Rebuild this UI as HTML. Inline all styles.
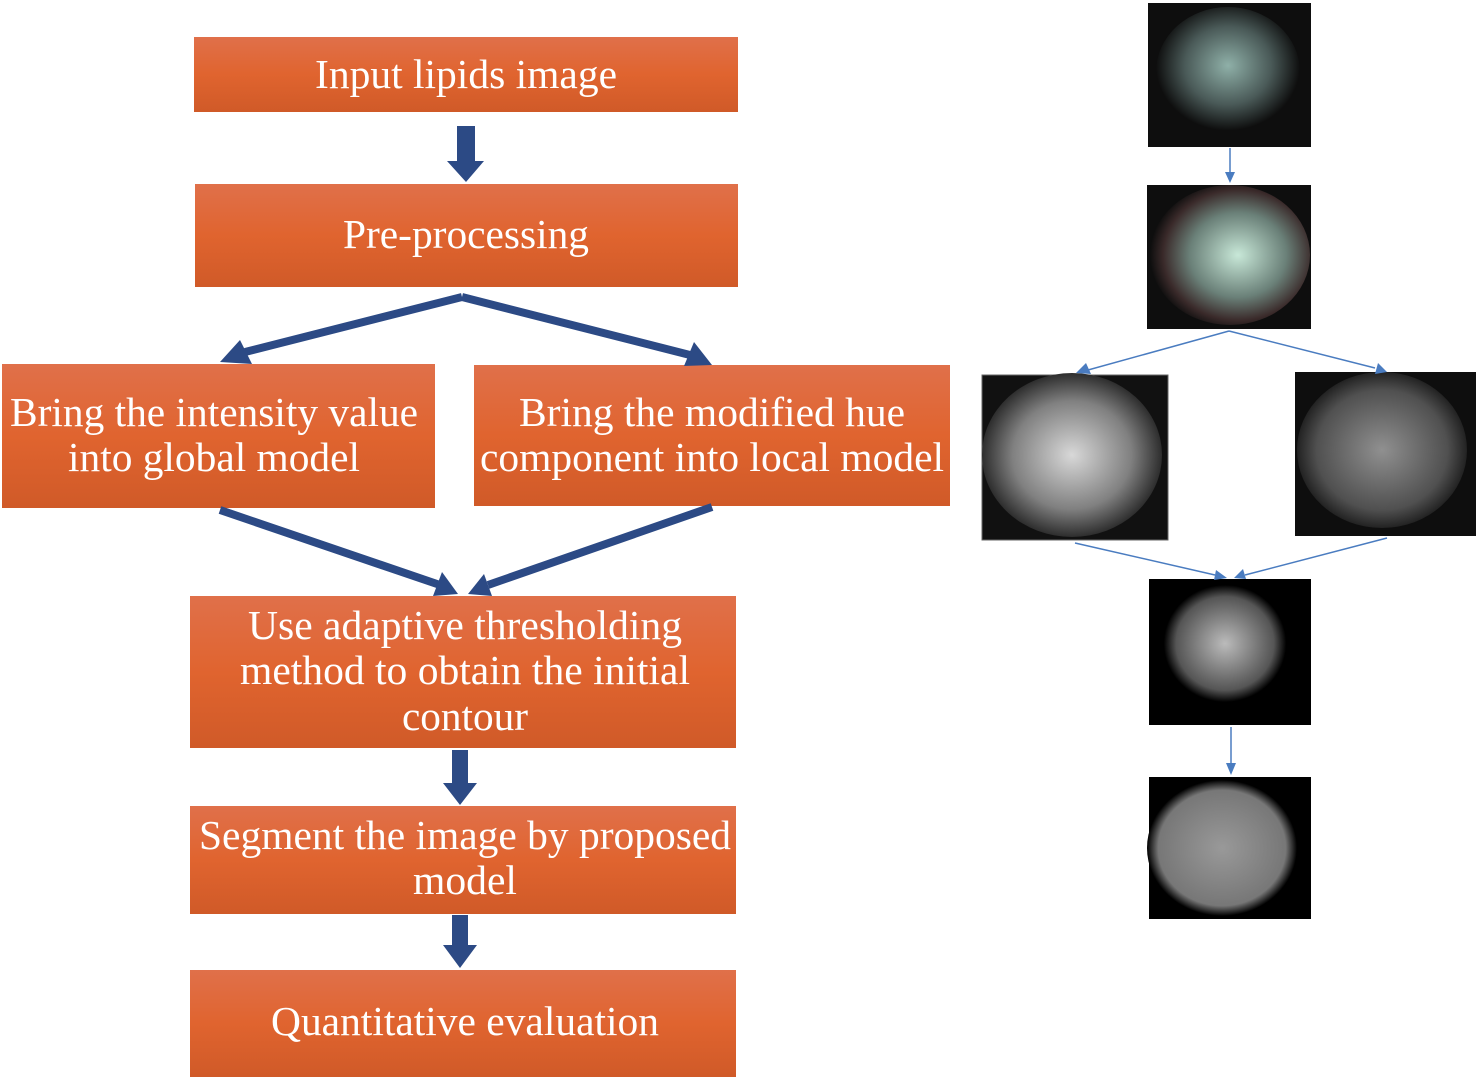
<!DOCTYPE html>
<html><head><meta charset="utf-8"><style>
body{margin:0;background:#fff;}
svg{display:block}
text{font-family:"Liberation Serif",serif;fill:#fff;font-size:41px;text-anchor:middle}
</style></head><body>
<svg width="1476" height="1079" viewBox="0 0 1476 1079" xmlns="http://www.w3.org/2000/svg">
<defs>
<linearGradient id="og" x1="0" y1="0" x2="0" y2="1">
<stop offset="0" stop-color="#e0704a"/><stop offset="0.5" stop-color="#e0642f"/><stop offset="1" stop-color="#d05a28"/>
</linearGradient>
<radialGradient id="g1" cx="0.5" cy="0.45" r="0.5"><stop offset="0" stop-color="#8fb0a8"/><stop offset="0.6" stop-color="#4a5a58"/><stop offset="1" stop-color="#0e0e0e"/></radialGradient>
<radialGradient id="g2" cx="0.55" cy="0.5" r="0.55"><stop offset="0" stop-color="#c8e8d8"/><stop offset="0.55" stop-color="#6a8078"/><stop offset="0.85" stop-color="#3a2a2a"/><stop offset="1" stop-color="#0e0e0e"/></radialGradient>
<radialGradient id="g3" cx="0.5" cy="0.5" r="0.55"><stop offset="0" stop-color="#d8d8d8"/><stop offset="0.6" stop-color="#808080"/><stop offset="1" stop-color="#151515"/></radialGradient>
<radialGradient id="g4" cx="0.5" cy="0.5" r="0.55"><stop offset="0" stop-color="#909090"/><stop offset="0.7" stop-color="#505050"/><stop offset="1" stop-color="#0e0e0e"/></radialGradient>
<radialGradient id="g5" cx="0.5" cy="0.45" r="0.45"><stop offset="0" stop-color="#bbb"/><stop offset="0.8" stop-color="#555"/><stop offset="1" stop-color="#000"/></radialGradient>
<radialGradient id="g6" cx="0.5" cy="0.5" r="0.5"><stop offset="0" stop-color="#999"/><stop offset="0.85" stop-color="#777"/><stop offset="1" stop-color="#000"/></radialGradient>
</defs>

<rect x="194" y="37" width="544" height="75" fill="url(#og)"/>
<text x="466" y="88" textLength="302" lengthAdjust="spacingAndGlyphs">Input lipids image</text>
<rect x="195" y="184" width="543" height="103" fill="url(#og)"/>
<text x="466" y="248" textLength="246" lengthAdjust="spacingAndGlyphs">Pre-processing</text>
<rect x="2" y="364" width="433" height="144" fill="url(#og)"/>
<text x="214" y="426" textLength="408" lengthAdjust="spacingAndGlyphs">Bring the intensity value</text>
<text x="214" y="471" textLength="292" lengthAdjust="spacingAndGlyphs">into global model</text>
<rect x="474" y="365" width="476" height="141" fill="url(#og)"/>
<text x="712" y="426" textLength="386" lengthAdjust="spacingAndGlyphs">Bring the modified hue</text>
<text x="712" y="471" textLength="464" lengthAdjust="spacingAndGlyphs">component into local model</text>
<rect x="190" y="596" width="546" height="152" fill="url(#og)"/>
<text x="465" y="639" textLength="434" lengthAdjust="spacingAndGlyphs">Use adaptive thresholding</text>
<text x="465" y="684" textLength="450" lengthAdjust="spacingAndGlyphs">method to obtain the initial</text>
<text x="465" y="730" textLength="126" lengthAdjust="spacingAndGlyphs">contour</text>
<rect x="190" y="806" width="546" height="108" fill="url(#og)"/>
<text x="465" y="849" textLength="532" lengthAdjust="spacingAndGlyphs">Segment the image by proposed</text>
<text x="465" y="894" textLength="104" lengthAdjust="spacingAndGlyphs">model</text>
<rect x="190" y="970" width="546" height="107" fill="url(#og)"/>
<text x="465" y="1035" textLength="388" lengthAdjust="spacingAndGlyphs">Quantitative evaluation</text>

<g fill="#2c4a85" stroke="#2c4a85">
<polygon points="457,126 475,126 475,161 484,161 466,182 447,161 457,161" stroke="none"/>
<polygon points="452,750 468,750 468,783 477,783 460,805 443,783 452,783" stroke="none"/>
<polygon points="452,915 468,915 468,945 477,945 460,968 443,945 452,945" stroke="none"/>
<line x1="462" y1="297" x2="245" y2="352" stroke-width="8"/>
<polygon points="220,362 240,340 252,364" stroke="none"/>
<line x1="462" y1="297" x2="690" y2="355" stroke-width="8"/>
<polygon points="712,365 684,366 694,342" stroke="none"/>
<line x1="220" y1="510" x2="440" y2="585" stroke-width="8"/>
<polygon points="458,594 433,596 442,572" stroke="none"/>
<line x1="712" y1="507" x2="488" y2="585" stroke-width="8"/>
<polygon points="468,594 484,574 492,596" stroke="none"/>
</g>

<rect x="1148" y="3" width="163" height="144" fill="#0e0e0e"/>
<ellipse cx="1228" cy="72" rx="72" ry="65" fill="url(#g1)"/>
<rect x="1147" y="185" width="164" height="144" fill="#0e0e0e"/>
<ellipse cx="1230" cy="255" rx="80" ry="70" fill="url(#g2)"/>
<rect x="982" y="375" width="186" height="165" fill="#111" stroke="#666" stroke-width="1"/>
<ellipse cx="1072" cy="455" rx="90" ry="82" fill="url(#g3)"/>
<rect x="1295" y="372" width="181" height="164" fill="#0e0e0e"/>
<ellipse cx="1382" cy="450" rx="85" ry="78" fill="url(#g4)"/>
<rect x="1149" y="579" width="162" height="146" fill="#000"/>
<ellipse cx="1225" cy="650" rx="68" ry="65" fill="url(#g5)"/>
<rect x="1149" y="777" width="162" height="142" fill="#000"/>
<ellipse cx="1222" cy="848" rx="75" ry="68" fill="url(#g6)"/>

<g stroke="#4a7cc0" stroke-width="1.5" fill="#4a7cc0">
<line x1="1230" y1="148" x2="1230" y2="175"/>
<polygon points="1225,172 1235,172 1230,183" stroke="none"/>
<line x1="1229" y1="331" x2="1088" y2="370"/>
<polygon points="1076,373 1086,363 1091,374" stroke="none"/>
<line x1="1229" y1="331" x2="1375" y2="368"/>
<polygon points="1387,372 1375,374 1378,363" stroke="none"/>
<line x1="1075" y1="543" x2="1215" y2="575"/>
<polygon points="1227,578 1214,580 1216,570" stroke="none"/>
<line x1="1387" y1="538" x2="1245" y2="575"/>
<polygon points="1234,578 1243,569 1246,579" stroke="none"/>
<line x1="1231" y1="727" x2="1231" y2="765"/>
<polygon points="1226,763 1236,763 1231,775" stroke="none"/>
</g>
</svg>
</body></html>
